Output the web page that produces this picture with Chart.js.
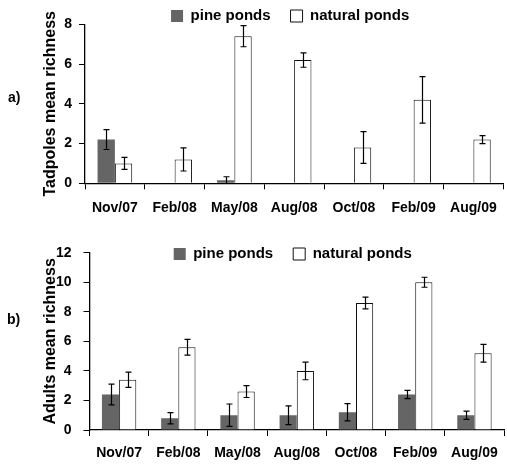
<!DOCTYPE html>
<html>
<head>
<meta charset="utf-8">
<script src="https://cdn.jsdelivr.net/npm/chart.js@4.4.1/dist/chart.umd.min.js"></script>
<style>
  html, body { margin: 0; padding: 0; background: #fff; }
  body { width: 507px; height: 466px; position: relative; overflow: hidden;
         font-family: 'Liberation Sans', Arial, sans-serif; }
  .panel { position: absolute; left: 0; width: 507px; }
  .tag { position: absolute; font: bold 14px 'Liberation Sans', Arial, sans-serif; color: #000; }
</style>
</head>
<body>
<div class="panel" style="top:0;height:222px"><canvas id="tadpoles"></canvas></div>
<div class="panel" style="top:228px;height:238px"><canvas id="adults"></canvas></div>
<div class="tag" style="left:8px;top:89px">a)</div>
<div class="tag" style="left:7px;top:311px">b)</div>
<script>
// sampling dates
const months = ['Nov/07', 'Feb/08', 'May/08', 'Aug/08', 'Oct/08', 'Feb/09', 'Aug/09'];

// a) tadpoles mean richness (+/- error)
const tadPine       = [2.2, 0, 0.15, 0, 0, 0, 0];
const tadPineErr    = [0.5, null, 0.18, null, null, null, null];
const tadNatural    = [1.0, 1.2, 7.4, 6.2, 1.8, 4.2, 2.2];
const tadNaturalErr = [0.3, 0.58, 0.53, 0.36, 0.8, 1.17, 0.2];

// b) adults mean richness (+/- error)
const adPine        = [2.4, 0.8, 1.0, 1.0, 1.2, 2.4, 1.0];
const adPineErr     = [0.7, 0.38, 0.76, 0.63, 0.58, 0.28, 0.28];
const adNatural     = [3.4, 5.6, 2.6, 4.0, 8.6, 10.0, 5.2];
const adNaturalErr  = [0.52, 0.53, 0.4, 0.6, 0.4, 0.34, 0.6];

Chart.defaults.font.family = "'Liberation Sans', Arial, sans-serif";
Chart.defaults.font.size   = 14;
Chart.defaults.font.weight = 'bold';
Chart.defaults.color       = '#000';

// draws +/- error whiskers on each bar
const errorBars = {
  id: 'errorBars',
  afterDatasetsDraw(chart) {
    const ctx = chart.ctx;
    const y   = chart.scales.y;
    ctx.save();
    ctx.strokeStyle = '#000';
    ctx.lineWidth   = 1.2;
    chart.data.datasets.forEach((ds, i) => {
      const meta = chart.getDatasetMeta(i);
      meta.data.forEach((bar, j) => {
        const e = ds.errors[j];
        if (e == null) return;
        const v   = ds.data[j];
        const top = y.getPixelForValue(v + e);
        const bot = y.getPixelForValue(Math.max(0, v - e));
        const x   = Math.round(bar.x) + 0.5;
        ctx.beginPath();
        ctx.moveTo(x, top); ctx.lineTo(x, bot);
        ctx.moveTo(x - 3, top); ctx.lineTo(x + 3, top);
        if (v - e > 0) { ctx.moveTo(x - 3, bot); ctx.lineTo(x + 3, bot); }
        ctx.stroke();
      });
    });
    ctx.restore();
  },
};

// legend reserves `height` above the plot, then is moved so its text sits at `textY`
const legendFit = {
  id: 'legendFit',
  beforeInit(chart, _args, opts) {
    const fit = chart.legend.fit;
    chart.legend.fit = function () {
      fit.call(this);
      this.height = opts.height;
    };
  },
  afterLayout(chart, _args, opts) {
    const lg = chart.legend;
    lg.top    = opts.textY - 27.5;
    lg.bottom = lg.top + 40;
    lg.height = 40;
    lg.left  -= 4;
    lg.right -= 4;
  },
};

function makeChart(id, pine, pineErr, natural, naturalErr, cfg) {
  return new Chart(document.getElementById(id), {
    type: 'bar',
    data: {
      labels: months,
      datasets: [
        {
          label:           'pine ponds',
          data:            pine,
          errors:          pineErr,
          backgroundColor: '#656565',
          borderColor:     '#656565',
          borderWidth:     0,
        },
        {
          label:           'natural ponds',
          data:            natural,
          errors:          naturalErr,
          backgroundColor: '#fff',
          borderColor:     '#111',
          borderWidth:     1,
        },
      ],
    },
    options: {
      responsive:          true,
      maintainAspectRatio: false,
      animation:           false,
      datasets: { bar: { categoryPercentage: 0.58, barPercentage: 1.0 } },
      layout: { padding: 0 },
      plugins: {
        legendFit: { height: cfg.legendH, textY: cfg.legendY },
        tooltip:   { enabled: false },
        legend: {
          position: 'top',
          fullSize: false,
          labels: {
            boxWidth:  12,
            boxHeight: 12,
            padding:   20,
            color:     '#000',
            font:      { size: 15, weight: 'bold' },
          },
        },
      },
      scales: {
        x: {
          grid:   { display: true, drawOnChartArea: false, drawTicks: true, tickLength: 6, color: '#000', offset: true },
          border: { display: true, color: '#000', width: 1.3 },
          ticks:  { padding: cfg.xPad, maxRotation: 0, autoSkip: false },
          afterFit(s) { s.height = cfg.xH; },
        },
        y: {
          min: 0,
          max: cfg.yMax,
          grid:   { display: true, drawOnChartArea: false, drawTicks: true, tickLength: 6, color: '#000' },
          border: { display: true, color: '#000', width: 1.3 },
          ticks:  { stepSize: 2, padding: cfg.yPad },
          title:  { display: true, text: cfg.yTitle, padding: { top: 41.4, bottom: 0 }, font: { size: 16, weight: 'bold' } },
          afterFit(s) { s.width = cfg.yW; },
        },
      },
    },
    plugins: [errorBars, legendFit],
  });
}

makeChart('tadpoles', tadPine, tadPineErr, tadNatural, tadNaturalErr, {
  yMax: 8, yTitle: 'Tadpoles mean richness',
  legendH: 24.3, legendY: 16, xH: 38.7, xPad: 10, yW: 85, yPad: 7,
});

makeChart('adults', adPine, adPineErr, adNatural, adNaturalErr, {
  yMax: 12, yTitle: 'Adults mean richness',
  legendH: 24.7, legendY: 26, xH: 36, xPad: 9, yW: 89.5, yPad: 12,
});
</script>
</body>
</html>
